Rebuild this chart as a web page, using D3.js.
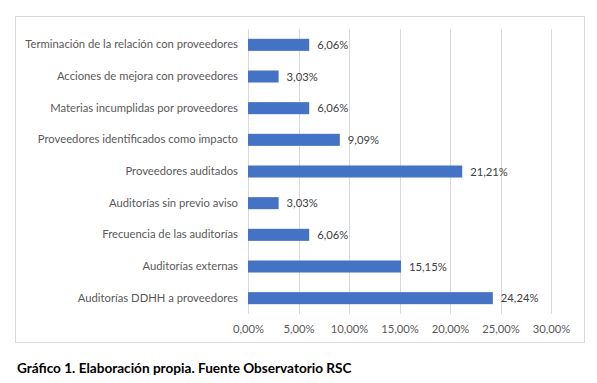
<!DOCTYPE html>
<html><head><meta charset="utf-8">
<script src="https://cdn.jsdelivr.net/npm/d3@7"></script>
<style>body{margin:0;background:#fff;} svg{display:block;}</style>
</head><body>
<svg id="c" width="597" height="383"></svg>
<script>
const categories = ["Terminación de la relación con proveedores","Acciones de mejora con proveedores","Materias incumplidas por proveedores","Proveedores identificados como impacto","Proveedores auditados","Auditorías sin previo aviso","Frecuencia de las auditorías","Auditorías externas","Auditorías DDHH a proveedores"];
const values = [6.06,3.03,6.06,9.09,21.21,3.03,6.06,15.15,24.24];
const ticks = [0,5,10,15,20,25,30];
const caption = "Gráfico 1. Elaboración propia. Fuente Observatorio RSC";

const svg = d3.select("#c");
const font = "Lato, 'Open Sans', sans-serif";
const fs = "11.25px";
svg.append("rect").attr("x",15.5).attr("y",16.5).attr("width",569).attr("height",326)
  .attr("fill","#fff").attr("stroke","#d9d9d9");
const x = d3.scaleLinear().domain([0,30]).range([248,551]);
const y = d3.scaleBand().domain(categories).range([29,314]).paddingInner(0.62).paddingOuter(0.31);
const fmt = v => v.toFixed(2).replace(".",",")+"%";

const g = svg.append("g");
g.selectAll("line.grid").data(ticks).join("line").attr("class","grid")
  .attr("x1",d=>Math.round(x(d))+0.5).attr("x2",d=>Math.round(x(d))+0.5).attr("y1",29).attr("y2",314)
  .attr("stroke","#d9d9d9");
const ax = d3.axisBottom(x).tickValues(ticks).tickSize(0).tickPadding(0).tickFormat(d=>fmt(d));
const axg = svg.append("g").attr("transform","translate(0,314)").call(ax);
axg.select(".domain").remove();
axg.selectAll("text").attr("dy",0).attr("y",19).attr("fill","#595959").style("font-family",font).style("font-size",fs);

g.selectAll("rect.bar").data(values).join("rect").attr("class","bar")
  .attr("x",x(0)).attr("y",(d,i)=>y(categories[i])).attr("width",d=>x(d)-x(0)).attr("height",y.bandwidth())
  .attr("fill","#4472C4");
g.selectAll("text.val").data(values).join("text").attr("class","val")
  .attr("x",d=>x(d)+8).attr("y",(d,i)=>y(categories[i])+y.bandwidth()/2+4)
  .text(fmt).attr("fill","#404040").style("font-family",font).style("font-size",fs);
const yax = d3.axisLeft(y).tickSize(0).tickPadding(10);
const yg = svg.append("g").attr("transform","translate(248,0)").call(yax);
yg.select(".domain").remove();
yg.selectAll("text").attr("fill","#595959").style("font-family",font).style("font-size",fs);

svg.append("text").attr("x",17).attr("y",373).text(caption)
  .style("font-family",font).style("font-weight","bold").style("font-size","13.6px").attr("fill","#000");
</script>
</body></html>
